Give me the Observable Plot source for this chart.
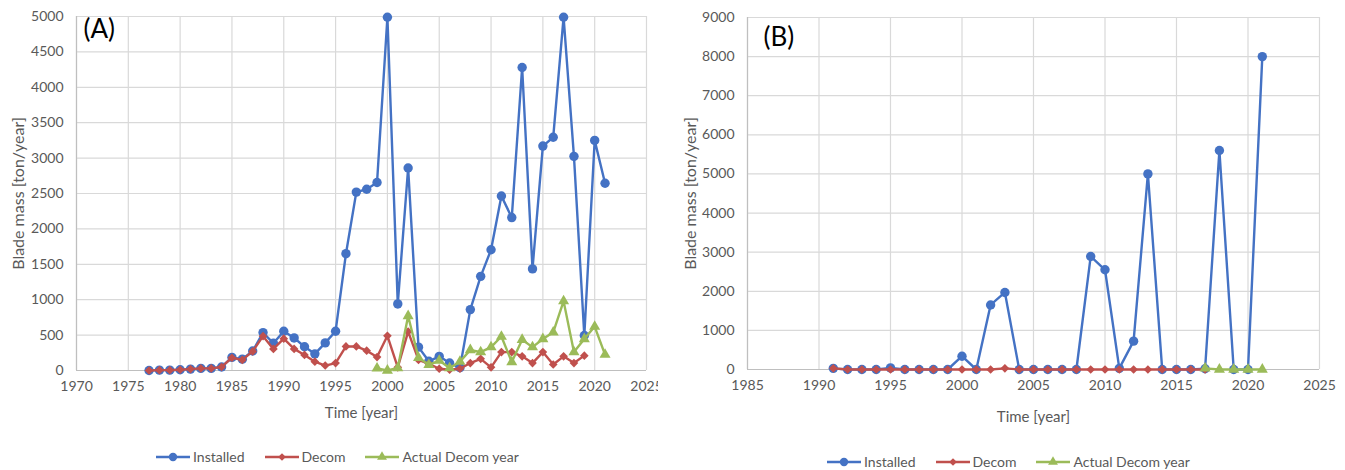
<!DOCTYPE html>
<html><head><meta charset="utf-8">
<script src="https://cdn.jsdelivr.net/npm/d3@7"></script>
<script src="https://cdn.jsdelivr.net/npm/@observablehq/plot@0.6"></script>
<style>
body{margin:0;background:#fff;font-family:Lato, sans-serif;}
#wrap{position:relative;width:1345px;height:470px;overflow:hidden;background:#fff;}
#pa{position:absolute;left:0;top:0;width:658px;height:430px;overflow:hidden;}
#pb{position:absolute;left:672px;top:0;}
.legend{position:absolute;display:flex;align-items:center;font:14px Lato, sans-serif;color:#595959;white-space:nowrap;}
.legend .item{display:flex;align-items:center;margin-right:20px;}
.legend svg{margin-right:3px;}
</style></head><body>
<div id="wrap"><div id="pa"></div><div id="pb"></div><div id="la" class="legend"></div><div id="lb" class="legend"></div></div>
<script>
// ---- Panel A data ----
const yearsInstalledA = [1977,1978,1979,1980,1981,1982,1983,1984,1985,1986,1987,1988,1989,1990,1991,1992,1993,1994,1995,1996,1997,1998,1999,2000,2001,2002,2003,2004,2005,2006,2007,2008,2009,2010,2011,2012,2013,2014,2015,2016,2017,2018,2019,2020,2021];
const installedA = [0,5,5,10,20,30,30,50,185,160,275,535,385,555,460,335,235,390,555,1650,2520,2560,2655,4990,940,2860,330,130,200,105,40,860,1330,1705,2465,2160,4280,1435,3170,3295,4990,3025,495,3250,2645];
const yearsDecomA = [1977,1978,1979,1980,1981,1982,1983,1984,1985,1986,1987,1988,1989,1990,1991,1992,1993,1994,1995,1996,1997,1998,1999,2000,2001,2002,2003,2004,2005,2006,2007,2008,2009,2010,2011,2012,2013,2014,2015,2016,2017,2018,2019];
const decomA = [0,5,5,10,20,30,30,50,180,150,270,485,305,450,305,220,125,70,105,340,340,280,190,490,45,550,150,95,25,10,25,105,165,45,260,260,200,105,260,85,200,105,210];
const yearsActualA = [1999,2000,2001,2002,2003,2004,2005,2006,2007,2008,2009,2010,2011,2012,2013,2014,2015,2016,2017,2018,2019,2020,2021];
const actualA = [30,0,35,770,180,80,140,35,125,290,260,330,480,120,435,330,445,540,980,260,445,620,225];
const xTicksA = [1970,1975,1980,1985,1990,1995,2000,2005,2010,2015,2020,2025];
const yTicksA = [0,500,1000,1500,2000,2500,3000,3500,4000,4500,5000];

// ---- Panel B data ----
const yearsInstalledB = [1991,1992,1993,1994,1995,1996,1997,1998,1999,2000,2001,2002,2003,2004,2005,2006,2007,2008,2009,2010,2011,2012,2013,2014,2015,2016,2017,2018,2019,2020,2021];
const installedB = [30,0,0,0,40,0,0,0,0,340,0,1650,1970,0,0,0,0,0,2890,2550,30,725,5000,0,0,0,20,5600,0,0,8000];
const yearsDecomB = [1991,1992,1993,1994,1995,1996,1997,1998,1999,2000,2001,2002,2003,2004,2005,2006,2007,2008,2009,2010,2011,2012,2013,2014,2015,2016,2017];
const decomB = [30,0,0,0,0,0,0,0,0,0,0,0,30,0,0,0,0,0,0,0,0,0,0,0,0,0,0];
const yearsActualB = [2017,2018,2019,2020,2021];
const actualB = [30,0,0,0,0];
const xTicksB = [1985,1990,1995,2000,2005,2010,2015,2020,2025];
const yTicksB = [0,1000,2000,3000,4000,5000,6000,7000,8000,9000];

const xLabel = "Time [year]";
const yLabel = "Blade mass [ton/year]";
const seriesNames = ["Installed","Decom","Actual Decom year"];
const colors = {"Installed":"#4472C4","Decom":"#C0504D","Actual Decom year":"#9BBB59"};
const symbols = {"Installed":"circle","Decom":"diamond2","Actual Decom year":"triangle"};
const radii = {"Installed":4.7,"Decom":3.9,"Actual Decom year":4.1};

function rows(years, vals){ return years.map((y,i)=>({year:y, value:vals[i]})); }

function panel(o){
  const fmt = d => String(d);
  const seriesMarks = [];
  o.series.forEach(([name, data]) => {
    seriesMarks.push(Plot.line(data, {x:"year", y:"value", stroke:colors[name], strokeWidth:2.4}));
    seriesMarks.push(Plot.dot(data, {x:"year", y:"value", symbol:()=>symbols[name], r:radii[name], fill:colors[name], stroke:"none"}));
  });
  return Plot.plot({
    width:o.width, height:430,
    marginLeft:o.ml, marginRight:o.mr, marginTop:o.mt, marginBottom:430-o.bottom,
    style:{fontFamily:"Lato, sans-serif", fontSize:"14px", color:"#595959", background:"white", overflow:"hidden"},
    x:{domain:o.xDomain},
    y:{domain:o.yDomain},
    symbol:{type:"identity"},
    marks:[
      Plot.gridX(o.xTicks, {stroke:"#d9d9d9", strokeOpacity:1, strokeWidth:1.2}),
      Plot.gridY(o.yTicks, {stroke:"#d9d9d9", strokeOpacity:1, strokeWidth:1.2}),
      Plot.ruleX([o.xDomain[0]], {stroke:"#bfbfbf", strokeWidth:1.2}),
      Plot.ruleY([0], {stroke:"#bfbfbf", strokeWidth:1.2}),
      Plot.axisX(o.xTicks, {tickSize:0, tickPadding:11, tickFormat:fmt, fontSize:14, label:null}),
      Plot.axisY(o.yTicks, {tickSize:0, tickPadding:13, tickFormat:fmt, fontSize:14, label:null}),
      Plot.text([xLabel], {frameAnchor:"bottom", dy:o.xLabelDy, fontSize:15, fill:"#595959", textAnchor:"middle", lineAnchor:"middle"}),
      Plot.text([yLabel], {frameAnchor:"left", dx:-(o.ml-18), rotate:-90, fontSize:16, fill:"#595959", textAnchor:"middle", lineAnchor:"middle"}),
      ...seriesMarks,
      Plot.text([o.tag], {frameAnchor:"top-left", dx:o.tagDx, dy:o.tagDy, fontSize:26, fill:"black", textAnchor:"start", lineAnchor:"top"})
    ]
  });
}

document.getElementById("pa").append(panel({
  width:658, ml:76, mr:12, mt:16, bottom:370,
  xDomain:[1970,2025], yDomain:[0,5000], xTicks:xTicksA, yTicks:yTicksA,
  xLabelDy:43,
  tag:"(A)", tagDx:7, tagDy:3,
  series:[["Installed", rows(yearsInstalledA, installedA)], ["Decom", rows(yearsDecomA, decomA)], ["Actual Decom year", rows(yearsActualA, actualA)]]
}));
document.getElementById("pb").append(panel({
  width:673, ml:75, mr:26, mt:17, bottom:369,
  xDomain:[1985,2025], yDomain:[0,9000], xTicks:xTicksB, yTicks:yTicksB,
  xLabelDy:48,
  tag:"(B)", tagDx:16, tagDy:10,
  series:[["Installed", rows(yearsInstalledB, installedB)], ["Decom", rows(yearsDecomB, decomB)], ["Actual Decom year", rows(yearsActualB, actualB)]]
}));

function legend(id, left, top){
  const el = document.getElementById(id);
  el.style.left = left + "px"; el.style.top = top + "px";
  const d3sym = {"Installed":d3.symbolCircle, "Decom":d3.symbolDiamond2, "Actual Decom year":d3.symbolTriangle};
  seriesNames.forEach(name => {
    const item = document.createElement("div"); item.className = "item";
    const svg = d3.create("svg").attr("width",34).attr("height",14);
    svg.append("line").attr("x1",0).attr("x2",34).attr("y1",7).attr("y2",7).attr("stroke",colors[name]).attr("stroke-width",2.4);
    svg.append("path").attr("transform","translate(17,7)").attr("d", d3.symbol(d3sym[name], Math.PI*radii[name]*radii[name]*0.8)()).attr("fill",colors[name]);
    item.append(svg.node());
    const t = document.createElement("span"); t.textContent = name; item.append(t);
    el.append(item);
  });
}
legend("la", 156, 448);
legend("lb", 827, 453);
</script>
</body></html>
